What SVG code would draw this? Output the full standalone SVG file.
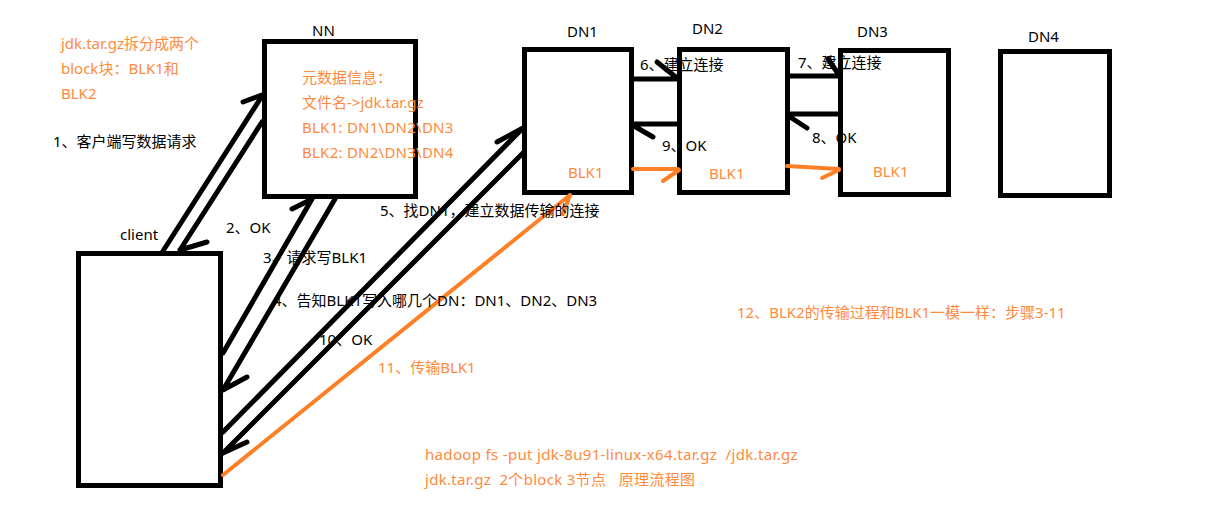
<svg xmlns="http://www.w3.org/2000/svg" width="1231" height="529" viewBox="0 0 1231 529">
<style>
text{font-family:"Noto Sans","Noto Sans CJK SC",sans-serif;font-size:15px;fill:#000}
text.o{fill:#FF8A3D}
.box{fill:#fff;stroke:#000;stroke-width:5}
.k{stroke:#000;stroke-width:5;stroke-linecap:round;fill:none}
.or{stroke:#FF7F27;stroke-width:4;stroke-linecap:round;fill:none}
</style>
<rect width="1231" height="529" fill="#fff"/>
<g id="notes">
<text class="o" x="61" y="49">jdk.tar.gz拆分成两个</text>
<text class="o" x="61" y="74">block块：BLK1和</text>
<text class="o" x="61" y="99">BLK2</text>
<text x="53" y="147">1、客户端写数据请求</text>
<text class="o" x="737" y="318">12、BLK2的传输过程和BLK1一模一样：步骤3-11</text>
<text class="o" x="425" y="460" xml:space="preserve" letter-spacing="0.33">hadoop fs -put jdk-8u91-linux-x64.tar.gz  /jdk.tar.gz</text>
<text class="o" x="425" y="485" xml:space="preserve" letter-spacing="0.3">jdk.tar.gz  2个block 3节点   原理流程图</text>
</g>
<g id="NN">
<rect class="box" x="264.5" y="41.5" width="151" height="155"/>
<text x="312" y="36">NN</text>
<text class="o" x="302" y="83">元数据信息：</text>
<text class="o" x="302" y="108">文件名-&gt;jdk.tar.gz</text>
<text class="o" x="302" y="133" letter-spacing="0.25">BLK1: DN1\DN2\DN3</text>
<text class="o" x="302" y="158" letter-spacing="0.25">BLK2: DN2\DN3\DN4</text>
</g>
<g id="client">
<rect class="box" x="78.5" y="253.5" width="142" height="232"/>
<text x="120" y="240">client</text>
</g>
<g id="DN1">
<rect class="box" x="524.5" y="49.5" width="107" height="143"/>
<text x="567" y="37">DN1</text>
<text class="o" x="568" y="178">BLK1</text>
</g>
<g id="DN2">
<rect class="box" x="679.5" y="49.5" width="108" height="143"/>
<text x="692" y="34">DN2</text>
<text class="o" x="709" y="179">BLK1</text>
</g>
<g id="DN3">
<rect class="box" x="840.5" y="50.5" width="108" height="144"/>
<text x="857" y="37">DN3</text>
<text class="o" x="873" y="177">BLK1</text>
</g>
<g id="DN4">
<rect class="box" x="1000.5" y="51.5" width="109" height="144"/>
<text x="1028" y="42">DN4</text>
</g>
<g id="connectors">
<path class="k" d="M163,251 L262,96 M243,102 L262,95"/>
<path class="k" d="M262,122 L180,250 M207,242 L180,250"/>
<path class="k" d="M223,353 L312,199 M292,209 L312,199"/>
<path class="k" d="M335,199 L223,390 M247,377 L223,390"/>
<path class="k" d="M223,432 L523,128 M497,142 L523,128"/>
<path class="k" d="M523,153 L223,453 M247,442 L223,453"/>
<path class="or" d="M223,475 L570,195 M563,214 L570,195"/>
<path class="k" d="M634,79 L677,79 M657,62 L677,78"/>
<path class="k" d="M677,124 L634,124 M653,137 L634,126"/>
<path class="or" d="M633,169 L678,169 M663,181 L679,170"/>
<path class="k" d="M790,76 L838,76 M828,59 L839,75"/>
<path class="k" d="M838,114 L790,114 M807,128 L790,117"/>
<path class="or" d="M787,166 L839,169 M822,178 L839,170"/>
</g>
<g id="labels">
<text x="226" y="233">2、OK</text>
<text x="263" y="263">3、请求写BLK1</text>
<text x="273" y="306">4、告知BLK1写入哪几个DN：DN1、DN2、DN3</text>
<text x="380" y="216">5、找DN1，建立数据传输的连接</text>
<text x="319" y="345">10、OK</text>
<text class="o" x="378" y="373">11、传输BLK1</text>
<text x="640" y="70">6、建立连接</text>
<text x="798" y="68">7、建立连接</text>
<text x="662" y="151">9、OK</text>
<text x="812" y="143">8、OK</text>
</g>
</svg>
